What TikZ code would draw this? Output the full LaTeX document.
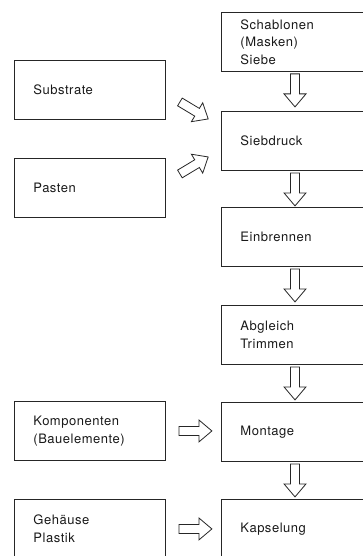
\documentclass[tikz,border=0pt]{standalone}
\usepackage{fontspec}
\setmainfont{TeX Gyre Heros}[LetterSpace=4]
\usetikzlibrary{calc}
\tikzset{
  box/.style={draw=black!85, line width=0.9pt, anchor=north west, minimum height=59pt,
    inner xsep=19pt, inner ysep=0pt, align=left,
    font=\fontsize{13}{17.5}\selectfont, text=black!90},
  lbox/.style={box, minimum width=151pt, text width=113pt},
  rbox/.style={box, minimum width=160pt, text width=122pt},
  blockarrow/.style={draw=black!85, line width=0.8pt, fill=white, line join=miter},
}
\newcommand\hollowarrow[2]{%
  \begin{scope}[shift={#1}, rotate=#2]
    \draw[blockarrow] (0,-4.5) -- (20,-4.5) -- (20,-11) -- (33,0) -- (20,11) -- (20,4.5) -- (0,4.5) -- cycle;
  \end{scope}}
\begin{document}
\begin{tikzpicture}[x=1pt, y=-1pt]
  \useasboundingbox (0,0) rectangle (363,556);
  \clip (0,0) rectangle (363,556);
  % right column
  \node[rbox] (schab) at (221,12)  {Schablonen\\(Masken)\\Siebe};
  \node[rbox] (sieb)  at (221,111) {Siebdruck};
  \node[rbox] (einb)  at (221,207) {Einbrennen};
  \node[rbox] (abgl)  at (221,305) {Abgleich\\Trimmen};
  \node[rbox] (mont)  at (221,402) {Montage};
  \node[rbox] (kaps)  at (221,499) {Kapselung};
  % left column
  \node[lbox] (substr) at (14,60)  {Substrate};
  \node[lbox] (pasten) at (14,158) {Pasten};
  \node[lbox] (komp)   at (14,401) {Komponenten\\(Bauelemente)};
  \node[lbox] (geh)    at (14,499) {Gehäuse\\Plastik};
  % vertical arrows
  \hollowarrow{($(schab.south west)+(74,2)$)}{-90}
  \hollowarrow{($(sieb.south west)+(74,2)$)}{-90}
  \hollowarrow{($(einb.south west)+(74,2)$)}{-90}
  \hollowarrow{($(abgl.south west)+(74,2)$)}{-90}
  \hollowarrow{($(mont.south west)+(74,2)$)}{-90}
  % diagonal arrows
  \hollowarrow{($(substr.east)+(14,12)$)}{-31}
  \hollowarrow{($(pasten.east)+(14,-14)$)}{31}
  % horizontal arrows
  \hollowarrow{($(komp.east)+(13,0)$)}{0}
  \hollowarrow{($(geh.east)+(13,0)$)}{0}
\end{tikzpicture}
\end{document}
